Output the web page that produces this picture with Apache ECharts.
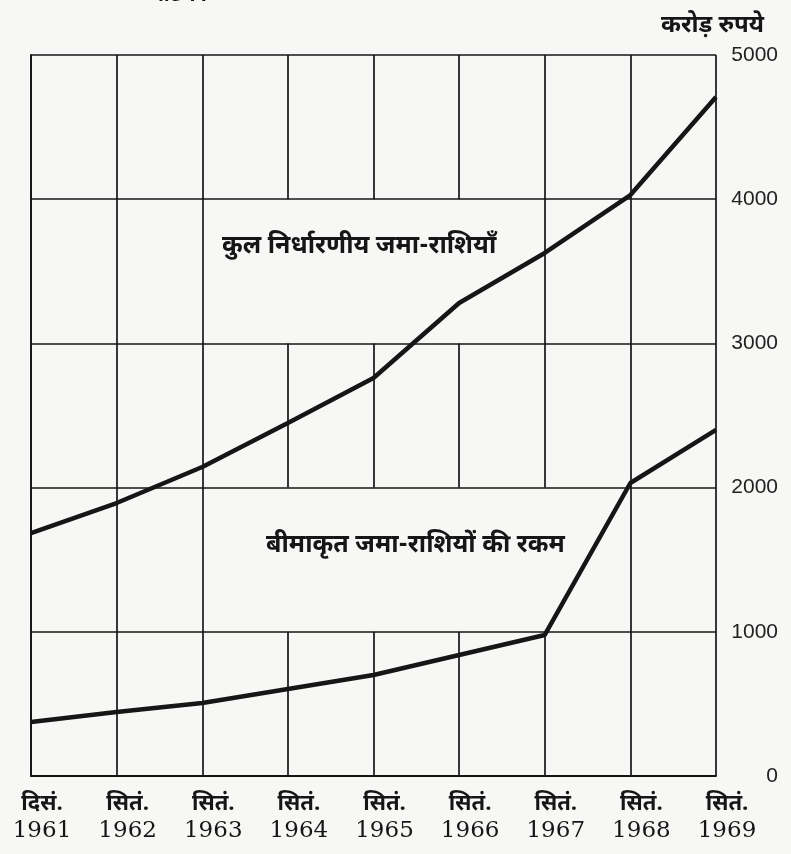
<!DOCTYPE html>
<html>
<head>
<meta charset="utf-8">
<script src="https://cdn.jsdelivr.net/npm/echarts@6/dist/echarts.min.js"></script>
<style>
  html, body { margin: 0; padding: 0; background: #f7f7f5; }
  #chart { width: 791px; height: 854px; }
</style>
</head>
<body>
<div id="chart"></div>
<script>
  // x categories (two-line labels)
  const months = ['दिसं.', 'सितं.', 'सितं.', 'सितं.', 'सितं.', 'सितं.', 'सितं.', 'सितं.', 'सितं.'];
  const years = ['1961', '1962', '1963', '1964', '1965', '1966', '1967', '1968', '1969'];

  // करोड़ रुपये
  const totalDeposits = [1685, 1893, 2143, 2448, 2760, 3280, 3627, 4029, 4709];
  const insuredDeposits = [374, 444, 506, 603, 700, 839, 978, 2032, 2400];

  const yMin = 0, yMax = 5000, yStep = 1000;

  const bg = '#f7f7f5';
  const ink = '#161616';
  const deva = '"Noto Sans Devanagari", "Noto Sans", "Lohit Devanagari", sans-serif';

  const chart = echarts.init(document.getElementById('chart'));

  const option = {
    backgroundColor: bg,
    animation: false,
    grid: { left: 31, right: 75, top: 55, bottom: 78 },
    xAxis: {
      type: 'value',
      min: 0,
      max: years.length - 1,
      interval: 1,
      z: 0,
      axisLine: { show: true, lineStyle: { color: ink, width: 1.8 } },
      axisTick: { show: false },
      splitLine: { show: true, lineStyle: { color: ink, width: 1.7 } },
      axisLabel: {
        margin: 18,
        padding: [0, 0, 0, 22],
        formatter: (v) => '{m|' + months[v] + '}\n{y|' + years[v] + '}',
        rich: {
          m: { fontFamily: deva, fontSize: 22, fontWeight: 'bold', color: ink, lineHeight: 24 },
          y: { fontFamily: '"DejaVu Serif", serif', fontSize: 23, color: ink, lineHeight: 26 }
        }
      }
    },
    yAxis: {
      type: 'value',
      position: 'right',
      min: yMin,
      max: yMax,
      interval: yStep,
      z: 3,
      axisLine: { show: true, lineStyle: { color: ink, width: 1.8 } },
      axisTick: { show: false },
      splitLine: { show: true, lineStyle: { color: ink, width: 1.7 } },
      axisLabel: {
        margin: 62,
        align: 'right',
        formatter: (v) => String(v),
        fontFamily: '"Liberation Sans", Arial, sans-serif',
        fontSize: 21,
        color: '#222'
      }
    },
    title: {
      text: 'करोड़ रुपये',
      right: 22,
      top: 11,
      textStyle: { fontFamily: deva, fontSize: 24, fontWeight: 'bold', color: ink }
    },
    graphic: [
      {
        type: 'text', left: 150, top: -13,
        style: { text: 'चार्ट 11', font: 'bold 20px ' + deva, fill: ink }
      },
      {
        type: 'text', left: 222, top: 236, z: 10,
        style: { text: 'कुल निर्धारणीय जमा-राशियाँ', font: 'bold 25px ' + deva, fill: ink }
      },
      {
        type: 'text', left: 266, top: 535, z: 10,
        style: { text: 'बीमाकृत जमा-राशियों की रकम', font: 'bold 25px ' + deva, fill: ink }
      }
    ],
    series: [
      {
        // blank cells behind the two captions
        type: 'line',
        data: [],
        z: 1,
        silent: true,
        markArea: {
          silent: true,
          itemStyle: { color: bg },
          data: [
            [{ coord: [2.02, 3000] }, { coord: [5.98, 4000] }],
            [{ coord: [2.02, 1000] }, { coord: [6.98, 2000] }]
          ]
        }
      },
      {
        name: 'कुल निर्धारणीय जमा-राशियाँ',
        type: 'line',
        z: 5,
        symbol: 'none',
        data: totalDeposits.map((v, i) => [i, v]),
        lineStyle: { color: ink, width: 4.5 }
      },
      {
        name: 'बीमाकृत जमा-राशियों की रकम',
        type: 'line',
        z: 5,
        symbol: 'none',
        data: insuredDeposits.map((v, i) => [i, v]),
        lineStyle: { color: ink, width: 4.5 }
      }
    ]
  };

  chart.setOption(option);
</script>
</body>
</html>
